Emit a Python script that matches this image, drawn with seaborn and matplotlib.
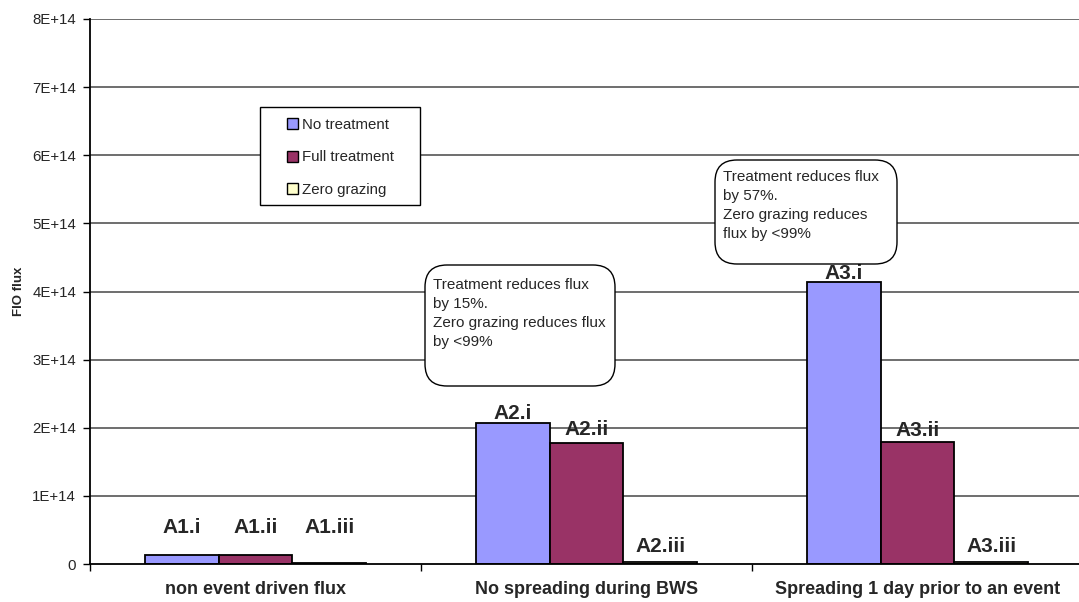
import matplotlib
matplotlib.use("Agg")
import matplotlib.pyplot as plt
from matplotlib.patches import FancyBboxPatch, Rectangle
from matplotlib.transforms import IdentityTransform
from matplotlib.ticker import FixedLocator, FixedFormatter
import numpy as np
import pandas as pd
import seaborn as sns

# ---- data -------------------------------------------------------------
categories = ["non event driven flux",
              "No spreading during BWS",
              "Spreading 1 day prior to an event"]
series = ["No treatment", "Full treatment", "Zero grazing"]
no_treatment = [1.37e13, 2.07e14, 4.14e14]
full_treatment = [1.37e13, 1.77e14, 1.79e14]
zero_grazing = [1.5e12, 2.5e12, 2.5e12]
bar_names = [["A1.i", "A2.i", "A3.i"],
             ["A1.ii", "A2.ii", "A3.ii"],
             ["A1.iii", "A2.iii", "A3.iii"]]
ytick_values = [0, 1e14, 2e14, 3e14, 4e14, 5e14, 6e14, 7e14, 8e14]
ytick_labels = ["0", "1E+14", "2E+14", "3E+14", "4E+14",
                "5E+14", "6E+14", "7E+14", "8E+14"]
note_mid = "Treatment reduces flux\nby 15%.\nZero grazing reduces flux\nby <99%"
note_right = "Treatment reduces flux\nby 57%.\nZero grazing reduces\nflux by <99%"

colors = ["#9999FF", "#993366", "#FFFFCC"]
# vertical pixel offset of each bar name above its bar top
name_offsets = [[27, 9, 8], [27, 14, 12], [35, 16, 16]]

df = pd.DataFrame({
    "category": categories * 3,
    "series": [s for s in series for _ in categories],
    "flux": no_treatment + full_treatment + zero_grazing,
})

# ---- figure -----------------------------------------------------------
sns.set_style("white")
plt.rcParams["font.family"] = ["Liberation Sans", "DejaVu Sans"]

W, H = 1079, 602
fig = plt.figure(figsize=(W / 100, H / 100), dpi=100)
ax = fig.add_axes([90 / W, 38 / H, 993 / W, 545 / H])

sns.barplot(data=df, x="category", y="flux", hue="series",
            order=categories, hue_order=series, palette=colors,
            width=0.67, gap=0, saturation=1, edgecolor="black",
            linewidth=1.3, ax=ax, zorder=3)

ax.set_xlim(-0.5, 2.5)
ax.set_ylim(0, 8e14)

# horizontal grid
ax.yaxis.set_major_locator(FixedLocator(ytick_values))
ax.yaxis.set_major_formatter(FixedFormatter(ytick_labels))
for v in ytick_values[1:]:
    ax.axhline(v, color="#555555", lw=1.2, zorder=1)

for side in ["top", "right"]:
    ax.spines[side].set_visible(False)
for side in ["left", "bottom"]:
    ax.spines[side].set_color("black")
    ax.spines[side].set_linewidth(1.3)
    ax.spines[side].set_zorder(4)

ax.tick_params(axis="y", which="major", direction="out", length=5,
               width=1, color="black", labelsize=10.8, pad=5, left=True)

# category ticks at group boundaries, labels at group centres
ax.xaxis.set_major_locator(FixedLocator([-0.5, 0.5, 1.5, 2.5]))
ax.xaxis.set_major_formatter(FixedFormatter(["", "", "", ""]))
ax.xaxis.set_minor_locator(FixedLocator([0, 1, 2]))
ax.xaxis.set_minor_formatter(FixedFormatter(categories))
ax.tick_params(axis="x", which="major", direction="out", length=5,
               width=1, color="black", bottom=True)
ax.tick_params(axis="x", which="minor", length=0, pad=12.5, labelsize=13)
for t in ax.xaxis.get_minorticklabels():
    t.set_fontweight("bold")

ax.set_xlabel("")
ax.set_ylabel("FIO flux", fontsize=9.5, fontweight="bold")
ax.yaxis.set_label_coords((25 - 90) / 993, 0.5)

# bar names above bars
for si, cont in enumerate(ax.containers):
    for ci, bar in enumerate(cont):
        x = bar.get_x() + bar.get_width() / 2
        ax.annotate(bar_names[si][ci], (x, bar.get_height()),
                    xytext=(0, name_offsets[si][ci]),
                    textcoords="offset pixels", ha="center", va="center",
                    fontsize=15, fontweight="bold", zorder=6)

# legend: entries without frame, box drawn separately underneath
handles, labels = ax.get_legend_handles_labels()
ax.get_legend().remove()
leg = fig.legend(handles, labels, loc="upper left",
                 bbox_to_anchor=(287 / W, 1 - 118 / H),
                 bbox_transform=fig.transFigure, fontsize=10.8,
                 frameon=False,
                 handlelength=0.75, handleheight=0.75, handletextpad=0.25,
                 labelspacing=1.22, borderpad=0, borderaxespad=0)
leg.set_zorder(8)
for h in leg.legend_handles:
    h.set_edgecolor("black")
    h.set_linewidth(1.0)
fig.add_artist(Rectangle((260, H - 205), 160, 98, facecolor="white",
                         edgecolor="black", lw=1.0,
                         transform=IdentityTransform(), zorder=7))


# rounded note boxes
def note(x0, y0, x1, y1, text, tx, ty):
    box = FancyBboxPatch((x0, H - y1), x1 - x0, y1 - y0,
                         boxstyle="round,pad=0,rounding_size=22",
                         facecolor="white", edgecolor="black", lw=1.0,
                         transform=IdentityTransform(), zorder=8)
    fig.add_artist(box)
    fig.text(tx / W, 1 - ty / H, text, ha="left", va="top",
             fontsize=11, linespacing=1.45, zorder=9)


note(425, 265, 615, 386, note_mid, 433, 278)
note(715, 160, 897, 264, note_right, 723, 170)

fig.savefig("out.png", dpi=100)
